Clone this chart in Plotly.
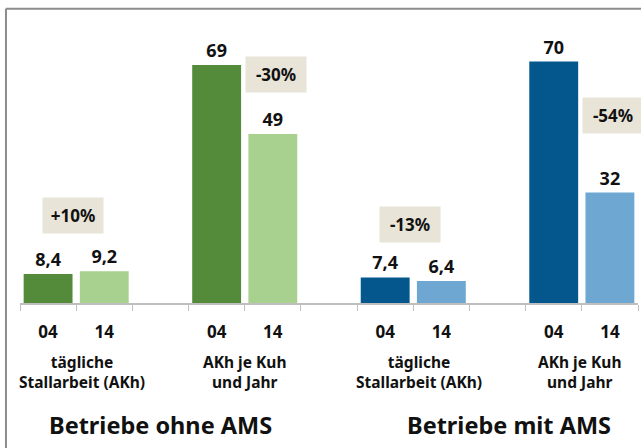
import plotly.graph_objects as go

# data
slots = [0, 1, 3, 4, 6, 7, 9, 10]          # bar slots on the x axis (2, 5, 8 are empty gaps)
years = ["04", "14", "04", "14", "04", "14", "04", "14"]
values = [8.4, 9.2, 69, 49, 7.4, 6.4, 70, 32]
colors = ["#548B3A", "#A8D08E", "#548B3A", "#A8D08E",
          "#03578C", "#6EA7D1", "#03578C", "#6EA7D1"]

changes = ["+10%", "-30%", "-13%", "-54%"]
change_pos = [(0.45, 25.4), (4.05, 66.2), (6.45, 22.7), (10.05, 54.3)]

measures = ["tägliche<br>Stallarbeit (AKh)", "AKh je Kuh<br>und Jahr",
            "tägliche<br>Stallarbeit (AKh)", "AKh je Kuh<br>und Jahr"]
measure_x = [0.6, 3.5, 6.6, 9.45]

groups = ["Betriebe ohne AMS", "Betriebe mit AMS"]
group_x = [2.0, 8.2]

FONT = "Noto Sans"
labels = ["<b>" + f"{v:g}".replace(".", ",") + "</b>" for v in values]

fig = go.Figure()
fig.add_trace(go.Bar(
    x=slots, y=values, marker_color=colors, marker_line_width=0,
    text=labels, textposition="outside", cliponaxis=False,
    textfont=dict(family=FONT, size=18, color="#111111"),
    width=0.87, showlegend=False,
))

for txt, (cx, cy) in zip(changes, change_pos):
    fig.add_annotation(x=cx, y=cy, text="<b>" + txt + "</b>", showarrow=False,
                       bgcolor="#E8E4D7", width=58, height=33,
                       font=dict(family=FONT, size=17, color="#111111"))

for txt, cx in zip(measures, measure_x):
    fig.add_annotation(x=cx, y=-0.165, yref="paper", text="<b>" + txt + "</b>",
                       showarrow=False, yanchor="top",
                       font=dict(family=FONT, size=15.5, color="#111111"))

for txt, cx in zip(groups, group_x):
    fig.add_annotation(x=cx, y=-0.375, yref="paper", text="<b>" + txt + "</b>",
                       showarrow=False, yanchor="top",
                       font=dict(family=FONT, size=23.5, color="#111111"))

# frame lines (left and top)
fig.add_shape(type="line", xref="paper", yref="paper", x0=-0.0227, x1=-0.0227,
              y0=-0.53, y1=1.066, line=dict(color="#8C8C8C", width=2))
fig.add_shape(type="line", xref="paper", yref="paper", x0=-0.0227, x1=1.01,
              y0=1.066, y1=1.066, line=dict(color="#8C8C8C", width=2))

fig.update_xaxes(
    range=[-0.5, 10.5], tickmode="array", tickvals=slots,
    ticktext=["<b>" + y + "</b>" for y in years],
    ticks="", ticklabelstandoff=13, showline=True, linecolor="#BFBFBF", linewidth=1.5,
    tickfont=dict(family=FONT, size=17, color="#111111"),
    minor=dict(tickmode="array", tickvals=[i - 0.5 for i in range(12)],
               ticks="outside", ticklen=6, tickcolor="#BFBFBF", tickwidth=1),
    showgrid=False, zeroline=False, fixedrange=True,
)
fig.update_yaxes(range=[0, 80], visible=False, showgrid=False, fixedrange=True)

fig.update_layout(
    width=641, height=448,
    margin=dict(l=20, r=3, t=27, b=145),
    plot_bgcolor="white", paper_bgcolor="white",
    bargap=0.13,
    font=dict(family=FONT),
)

fig.write_html("out.html", config={"displayModeBar": False},
               post_script="document.body.style.margin='0';")
